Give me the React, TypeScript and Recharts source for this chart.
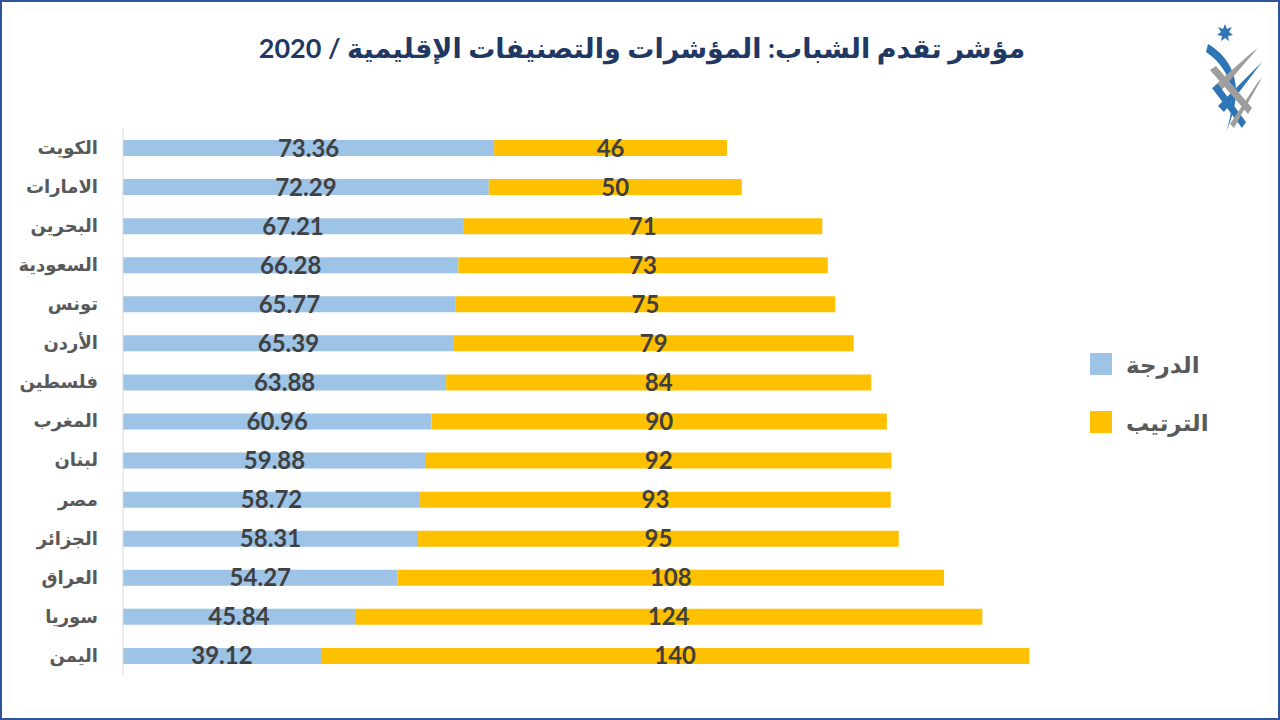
import { BarChart, Bar, XAxis, YAxis, LabelList } from 'recharts'

const countries = [
  'الكويت', 'الامارات', 'البحرين', 'السعودية', 'تونس', 'الأردن', 'فلسطين',
  'المغرب', 'لبنان', 'مصر', 'الجزائر', 'العراق', 'سوريا', 'اليمن'
]
const scores = [73.36, 72.29, 67.21, 66.28, 65.77, 65.39, 63.88, 60.96, 59.88, 58.72, 58.31, 54.27, 45.84, 39.12]
const ranks = [46, 50, 71, 73, 75, 79, 84, 90, 92, 93, 95, 108, 124, 140]

const SCORE_NAME = 'الدرجة'
const RANK_NAME = 'الترتيب'
const SCORE_COLOR = '#9DC3E6'
const RANK_COLOR = '#FFC000'
const TITLE = 'مؤشر تقدم الشباب: المؤشرات والتصنيفات الإقليمية / 2020'

const data = countries.map((country, i) => ({ country, score: scores[i], rank: ranks[i] }))

const legendItems = [
  { name: SCORE_NAME, color: SCORE_COLOR },
  { name: RANK_NAME, color: RANK_COLOR }
]

const FONT = "Lato, 'DejaVu Sans', sans-serif"

function Logo() {
  return (
    <svg width={70} height={130} style={{ position: 'absolute', left: 1198, top: 10 }}>
      <polygon points="25,12 27,17 32,15 29,20 33,23 28,24 29,29 25,26 21,29 22,24 17,23 21,20 18,15 23,17" fill="#2E75B6" />
      <path d="M8,32 C30,45 45,70 30,110 L26,120 C40,80 28,55 6,40 Z" fill="#2E75B6" />
      <path d="M50,42 L58,36 L20,80 L14,74 Z" fill="#9E9E9E" />
      <path d="M56,56 L62,50 L24,100 L18,94 Z" fill="#2E75B6" />
      <path d="M10,58 L16,54 L52,96 L48,102 Z" fill="#9E9E9E" />
      <path d="M12,76 L18,72 L46,110 L42,116 Z" fill="#2E75B6" />
      <path d="M58,70 L62,66 L34,116 L30,112 Z" fill="#9E9E9E" />
    </svg>
  )
}

export default function App() {
  return (
    <div
      style={{
        position: 'absolute',
        left: 0,
        top: 0,
        width: 1280,
        height: 720,
        background: '#ffffff',
        border: '2px solid #2F5597',
        boxSizing: 'border-box',
        overflow: 'hidden',
        fontFamily: FONT
      }}
    >
      <div
        style={{
          position: 'absolute',
          left: 0,
          top: 29,
          width: 1280,
          textAlign: 'center',
          fontSize: 27,
          fontWeight: 'bold',
          color: '#1F3864',
          direction: 'rtl'
        }}
      >
        {TITLE}
      </div>
      <Logo />
      {/* legend */}
      <div style={{ position: 'absolute', left: 1088, top: 333 }}>
        {legendItems.map(item => (
          <div key={item.name} style={{ display: 'flex', alignItems: 'center', height: 58 }}>
            <div style={{ width: 22, height: 22, background: item.color, marginRight: 14 }} />
            <span style={{ fontSize: 23, fontWeight: 'bold', color: '#595959' }}>{item.name}</span>
          </div>
        ))}
      </div>
      <div style={{ position: 'absolute', left: -2, top: -2 }}>
        <BarChart
          width={1280}
          height={720}
          data={data}
          layout="vertical"
          margin={{ top: 128, right: 145, bottom: 45, left: 0 }}
        >
          <XAxis type="number" domain={[0, 200]} hide />
          <YAxis
            type="category"
            dataKey="country"
            width={123}
            tickLine={false}
            tickSize={0}
            tickMargin={25}
            axisLine={{ stroke: '#D9D9D9' }}
            tick={{ fill: '#595959', fontSize: 18, fontWeight: 'bold', fontFamily: FONT }}
            interval={0}
          />
          <Bar dataKey="score" name={SCORE_NAME} stackId="a" fill={SCORE_COLOR} barSize={16} isAnimationActive={false}>
            <LabelList dataKey="score" position="center" fill="#404040" fontSize={24} fontWeight="bold" fontFamily={FONT} formatter={(v: any) => Number(v).toFixed(2)} />
          </Bar>
          <Bar dataKey="rank" name={RANK_NAME} stackId="a" fill={RANK_COLOR} barSize={16} isAnimationActive={false}>
            <LabelList dataKey="rank" position="center" fill="#404040" fontSize={24} fontWeight="bold" fontFamily={FONT} />
          </Bar>
        </BarChart>
      </div>
    </div>
  )
}
